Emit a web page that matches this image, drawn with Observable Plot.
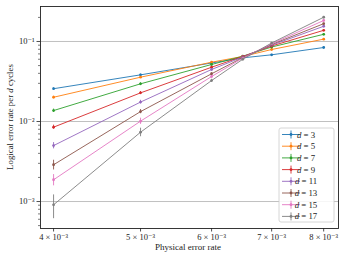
<!DOCTYPE html>
<html>
<head>
<meta charset="utf-8">
<script src="https://cdn.jsdelivr.net/npm/d3@7"></script>
<script src="https://cdn.jsdelivr.net/npm/@observablehq/plot@0.6"></script>
<style>
  html, body { margin: 0; padding: 0; background: #fff; }
  #chart { width: 345px; height: 257px; }
</style>
</head>
<body>
<div id="chart"></div>
<script>
// ---- data ----
const pRates = [0.004, 0.005, 0.006, 0.0065, 0.007, 0.008];
const distances = [3, 5, 7, 9, 11, 13, 15, 17];
const rate_d3  = [0.0257, 0.0383, 0.0539, 0.0625, 0.0682, 0.0841];
const rate_d5  = [0.0201, 0.0358, 0.0551, 0.0650, 0.0794, 0.107];
const rate_d7  = [0.0137, 0.0296, 0.0516, 0.0655, 0.0853, 0.123];
const rate_d9  = [0.0085, 0.0228, 0.0477, 0.0650, 0.0878, 0.138];
const rate_d11 = [0.0050, 0.0175, 0.0447, 0.0640, 0.0899, 0.155];
const rate_d13 = [0.00288, 0.0133, 0.0395, 0.0630, 0.0917, 0.167];
const rate_d15 = [0.00187, 0.0101, 0.0365, 0.0620, 0.0936, 0.183];
const rate_d17 = [0.00091, 0.00735, 0.0325, 0.0600, 0.0957, 0.201];
const err_d3  = [0.0006, 0.0008, 0.0010, 0.0010, 0.0010, 0.0012];
const err_d5  = [0.0006, 0.0008, 0.0010, 0.0010, 0.0012, 0.0014];
const err_d7  = [0.0006, 0.0009, 0.0010, 0.0011, 0.0013, 0.0015];
const err_d9  = [0.0005, 0.0009, 0.0010, 0.0011, 0.0013, 0.0016];
const err_d11 = [0.00045, 0.0009, 0.0011, 0.0011, 0.0013, 0.0017];
const err_d13 = [0.0004, 0.0008, 0.0011, 0.0011, 0.0014, 0.0018];
const err_d15 = [0.0003, 0.0009, 0.0011, 0.0012, 0.0014, 0.0019];
const err_d17 = [0.0003, 0.0009, 0.0012, 0.0012, 0.0015, 0.0020];
const xTicks = [0.004, 0.005, 0.006, 0.007, 0.008];
const xTickLabels = ["4 × 10⁻³", "5 × 10⁻³", "6 × 10⁻³", "7 × 10⁻³", "8 × 10⁻³"];
const yTicks = [0.001, 0.01, 0.1];
const yTickLabels = ["10⁻³", "10⁻²", "10⁻¹"];
const xLabel = "Physical error rate";
const yLabelParts = ["Logical error rate per ", "d", " cycles"];
const colors = ["#1f77b4", "#ff7f0e", "#2ca02c", "#d62728", "#9467bd", "#8c564b", "#e377c2", "#7f7f7f"];

const rates = [rate_d3, rate_d5, rate_d7, rate_d9, rate_d11, rate_d13, rate_d15, rate_d17];
const errs = [err_d3, err_d5, err_d7, err_d9, err_d11, err_d13, err_d15, err_d17];
const rows = [];
distances.forEach((d, i) => pRates.forEach((p, j) => rows.push({
  d, p, r: rates[i][j], lo: rates[i][j] - errs[i][j], hi: rates[i][j] + errs[i][j]
})));
const xTickRows = xTicks.map((v, i) => ({ v, label: xTickLabels[i] }));
const yTickRows = yTicks.map((v, i) => ({ v, label: yTickLabels[i] }));

const yMinor = [];
for (let k = -4; k <= -1; k++) for (let m = 2; m <= 9; m++) {
  const v = m * Math.pow(10, k);
  if (v > 4.6e-4 && v < 0.2738) yMinor.push(v);
}
const noText = () => "";

const W = 345, H = 257, mL = 40, mR = 7, mT = 6, mB = 29;
const font = "'Liberation Serif', 'DejaVu Serif', serif";

const chart = Plot.plot({
  width: W, height: H,
  marginLeft: mL, marginRight: mR, marginTop: mT, marginBottom: mB,
  style: { fontFamily: font, fontSize: "8.5px", background: "#fff", color: "#222" },
  x: { type: "log", domain: [3.868e-3, 8.31e-3] },
  y: { type: "log", domain: [4.6e-4, 0.2738] },
  color: { domain: distances, range: colors },
  marks: [
    Plot.gridY(yTicks, { stroke: "#b0b0b0", strokeOpacity: 1, strokeWidth: 0.8 }),
    Plot.axisY({ ticks: yMinor, tickSize: 2, tickFormat: noText, stroke: "#222", strokeWidth: 0.6, label: null }),
    Plot.axisY({ ticks: yTicks, tickSize: 3.5, tickFormat: noText, stroke: "#222", strokeWidth: 0.8, label: null }),
    Plot.text(yTickRows, { y: "v", text: "label", frameAnchor: "left", textAnchor: "end", dx: -6, fontSize: 8.5, fill: "#222" }),
    Plot.axisX({ ticks: xTicks, tickSize: 3.5, tickFormat: noText, stroke: "#222", strokeWidth: 0.8, label: null }),
    Plot.text(xTickRows, { x: "v", text: "label", frameAnchor: "bottom", lineAnchor: "top", dy: 5.5, fontSize: 8.5, fill: "#222" }),
    Plot.line(rows, { x: "p", y: "r", z: "d", stroke: "d", strokeWidth: 0.9 }),
    Plot.ruleX(rows, { x: "p", y1: "lo", y2: "hi", stroke: "d", strokeWidth: 0.9 }),
    Plot.dot(rows, { x: "p", y: "r", fill: "d", r: 1.4, stroke: null }),
    Plot.frame({ stroke: "#222", strokeWidth: 0.9 })
  ]
});
document.getElementById("chart").appendChild(chart);

// axis labels and legend
const svg = d3.select(chart);
svg.append("text")
  .attr("x", 188).attr("y", H - 7)
  .attr("text-anchor", "middle").attr("font-family", font).attr("font-size", 9)
  .attr("fill", "#222").text(xLabel);
const yl = svg.append("text")
  .attr("transform", `translate(${13},${mT + (H - mT - mB) / 2}) rotate(-90)`)
  .attr("text-anchor", "middle").attr("font-family", font).attr("font-size", 8.8).attr("fill", "#222");
yLabelParts.forEach((t, i) => yl.append("tspan").attr("font-style", i === 1 ? "italic" : null).text(t));

const lgW = 55, lgH = 94, lgRight = W - mR - 4, lgBottom = H - mB - 6;
const lg = svg.append("g").attr("transform", `translate(${lgRight - lgW},${lgBottom - lgH})`);
lg.append("rect").attr("width", lgW).attr("height", lgH).attr("rx", 2)
  .attr("fill", "#fff").attr("fill-opacity", 0.85).attr("stroke", "#ccc").attr("stroke-width", 0.8);
distances.forEach((d, i) => {
  const cy = 6.5 + i * 11.7;
  const g = lg.append("g").attr("transform", `translate(0,${cy})`);
  g.append("line").attr("x1", 3).attr("x2", 21).attr("stroke", colors[i]).attr("stroke-width", 0.9);
  g.append("line").attr("x1", 12).attr("x2", 12).attr("y1", -4).attr("y2", 4).attr("stroke", colors[i]).attr("stroke-width", 0.9);
  g.append("circle").attr("cx", 12).attr("r", 1.4).attr("fill", colors[i]);
  const t = g.append("text").attr("x", 27).attr("y", 3).attr("font-family", font).attr("font-size", 8.8).attr("fill", "#222");
  t.append("tspan").attr("font-style", "italic").text("d");
  t.append("tspan").text(" = " + d);
});
</script>
</body>
</html>
